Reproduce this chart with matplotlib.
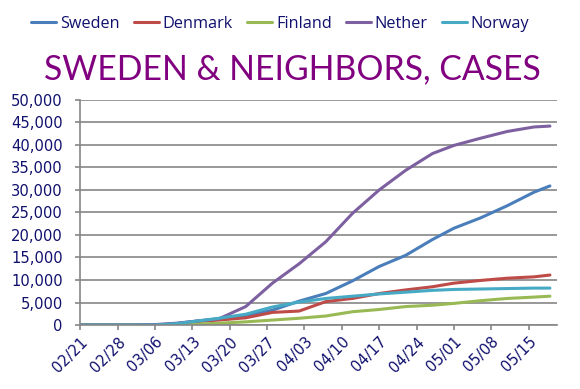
import matplotlib
matplotlib.use("Agg")
import matplotlib.pyplot as plt
import matplotlib.dates as mdates
import matplotlib.ticker as mticker
import pandas as pd

# sample dates (2020) and cumulative cases
dates = ["2020-02-21", "2020-02-26", "2020-03-02", "2020-03-06", "2020-03-10",
         "2020-03-14", "2020-03-18", "2020-03-23", "2020-03-28", "2020-04-02",
         "2020-04-07", "2020-04-12", "2020-04-17", "2020-04-22", "2020-04-27",
         "2020-05-01", "2020-05-06", "2020-05-11", "2020-05-16", "2020-05-19"]
sweden = [0, 0, 0, 0, 300, 900, 1300, 2000, 3300, 5300,
          7000, 9800, 13000, 15500, 19000, 21500, 23800, 26500, 29500, 30900]
denmark = [0, 0, 0, 0, 200, 800, 1100, 1600, 2800, 3100,
           5200, 5900, 7000, 7800, 8500, 9300, 9900, 10400, 10700, 11100]
finland = [0, 0, 0, 0, 50, 200, 400, 700, 1100, 1500,
           2000, 2950, 3450, 4100, 4400, 4800, 5400, 5900, 6200, 6400]
nether = [0, 0, 0, 100, 400, 900, 1400, 4100, 9300, 13600,
          18500, 24800, 30000, 34400, 38100, 39900, 41500, 43000, 44000, 44200]
norway = [0, 0, 0, 0, 300, 900, 1500, 2400, 4000, 5100,
          5900, 6400, 6900, 7300, 7700, 7900, 8000, 8100, 8200, 8200]

series = [("Sweden", sweden, "#4a7ebb"),
          ("Denmark", denmark, "#be4b48"),
          ("Finland", finland, "#98b954"),
          ("Nether", nether, "#7d60a0"),
          ("Norway", norway, "#46aac5")]

NAVY = "#10106e"
GRID = "#868686"
plt.rcParams["font.family"] = ["DejaVu Sans"]

x = pd.to_datetime(dates)
fig = plt.figure(figsize=(5.8, 3.89), dpi=100)
ax = fig.add_axes([0.1385, 0.1645, 0.8225, 0.5785])

for name, vals, color in series:
    ax.plot(x, vals, color=color, lw=2.2, label=name, solid_capstyle="round")

ax.set_ylim(0, 50000)
ax.yaxis.set_major_locator(mticker.MultipleLocator(5000))
ax.yaxis.set_major_formatter(mticker.StrMethodFormatter("{x:,.0f}"))
ax.set_xlim(x[0], x[-1] + pd.Timedelta(days=1.4))
ax.set_xticks(pd.date_range("2020-02-21", "2020-05-15", freq="7D"))
ax.xaxis.set_major_formatter(mdates.DateFormatter("%m/%d"))

ax.grid(axis="y", color=GRID, lw=1.2)
ax.set_axisbelow(True)
for side in ("top", "right"):
    ax.spines[side].set_visible(False)
for side in ("left", "bottom"):
    ax.spines[side].set_color(GRID)
    ax.spines[side].set_linewidth(1.2)
ax.tick_params(axis="both", colors=GRID, direction="out", length=3.6, width=1.2)
ax.tick_params(axis="y", labelcolor=NAVY, labelsize=10.6, pad=9)
ax.tick_params(axis="x", labelcolor=NAVY, labelsize=10.6, pad=3)
for lab in ax.get_xticklabels():
    lab.set_rotation(45)
    lab.set_ha("right")
    lab.set_rotation_mode("anchor")

fig.text(0.5043, 0.796, "SWEDEN & NEIGHBORS, CASES", color="#800080",
         fontsize=24.3, ha="center", va="baseline",
         family=["Lato", "DejaVu Sans"])
fig.legend(loc="center", bbox_to_anchor=(0.483, 0.938), ncol=5, frameon=False,
           prop={"family": ["Open Sans", "DejaVu Sans"], "size": 11.7},
           labelcolor=NAVY, handlelength=1.54, handletextpad=0.25,
           columnspacing=0.86, borderaxespad=0)

fig.savefig("out.png", dpi=100)
